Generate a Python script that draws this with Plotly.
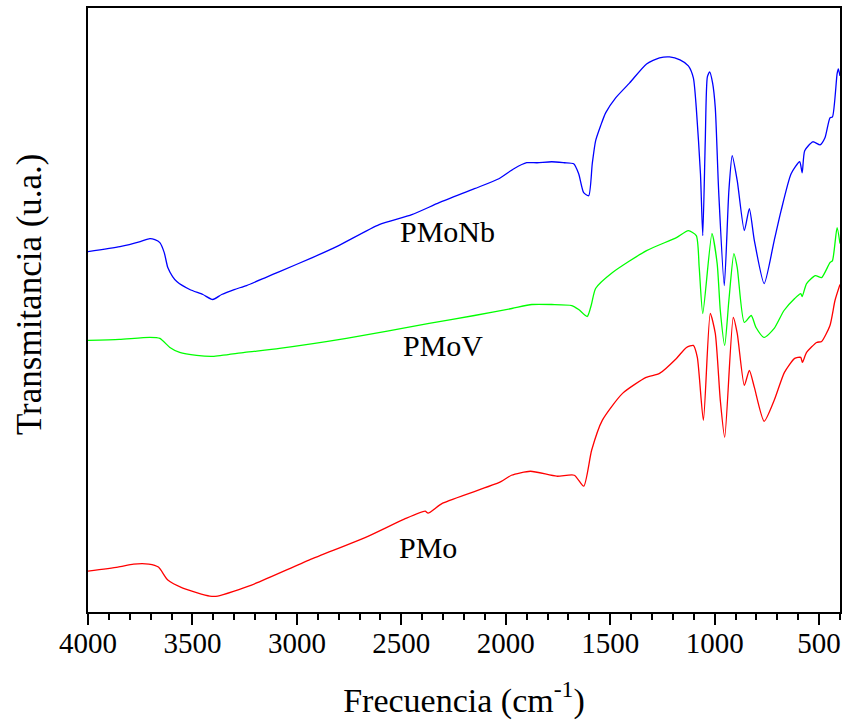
import plotly.graph_objects as go

# FTIR spectra of the three heteropolyacids (wavenumber in cm-1, transmittance in a.u.)
pmonb_wn = [4000, 3847, 3750, 3704, 3680, 3656, 3635, 3618, 3595, 3575, 3513, 3450, 3403, 3360,
            3300, 3241, 3150, 3083, 2926, 2800, 2606, 2450, 2319, 2150, 2033, 1961, 1900, 1850,
            1780, 1720, 1675, 1651, 1627, 1603, 1586, 1570, 1546, 1522, 1474, 1407, 1326, 1264,
            1216, 1166, 1126, 1102, 1088, 1068, 1057, 1045, 1035, 1024, 1010, 997, 981, 954, 932,
            916, 892, 858, 834, 810, 763, 715, 682, 634, 593, 581, 569, 530, 495, 472, 448, 436,
            414, 408, 400]
pmonb_t = [361, 366, 371, 374, 373, 370, 360, 345, 336, 331, 323, 318, 313, 318,
           323, 327, 335, 341, 355, 367, 388, 398, 410, 424, 434, 444, 450, 450,
           451, 450, 449, 439, 420, 417, 449, 472, 487, 500, 515, 530, 549, 555,
           556, 553, 547, 535, 505, 439, 377, 472, 536, 541, 530, 505, 422, 327, 422,
           457, 432, 382, 404, 372, 329, 372, 402, 439, 451, 440, 462, 471, 468, 475, 495, 496,
           539, 544, 537]

pmov_wn = [4000, 3850, 3704, 3656, 3608, 3561, 3480, 3403, 3250, 3083, 2763, 2367, 2150, 1971,
           1875, 1780, 1684, 1651, 1610, 1590, 1570, 1489, 1326, 1183, 1126, 1088, 1074, 1057,
           1013, 988, 973, 952, 932, 908, 892, 858, 825, 802, 763, 715, 668, 617, 588, 581,
           560, 518, 488, 448, 436, 414, 400]
pmov_t = [272, 273, 275, 274, 265, 260, 257, 256, 260, 264, 274, 289, 297, 304,
          308, 308, 307, 303, 296, 308, 324, 340, 362, 375, 382, 377, 345, 299,
          379, 349, 302, 267, 312, 359, 345, 290, 297, 285, 275, 284, 302, 314, 319, 316,
          329, 337, 335, 350, 352, 385, 369]

pmo_wn = [4000, 3857, 3782, 3709, 3663, 3618, 3546, 3417, 3379, 3217, 2942, 2668, 2486, 2386,
          2372, 2302, 2028, 1973, 1882, 1756, 1672, 1627, 1589, 1538, 1441, 1328, 1264, 1183,
          1135, 1102, 1083, 1054, 1021, 997, 973, 952, 911, 892, 858, 834, 810, 763, 715, 666,
          617, 588, 580, 560, 512, 488, 448, 424, 400]
pmo_t = [41, 45, 48, 48, 45, 32, 24, 16, 16, 27, 52, 75, 93, 101,
         99, 109, 130, 137, 141, 136, 137, 126, 162, 192, 219, 235, 239, 254,
         265, 267, 255, 192, 299, 279, 212, 175, 295, 279, 227, 242, 225, 191, 212, 240,
         254, 255, 250, 260, 270, 271, 287, 312, 328]

series = [
    ("PMoNb", pmonb_wn, pmonb_t, "#0000FF"),
    ("PMoV", pmov_wn, pmov_t, "#00FF00"),
    ("PMo", pmo_wn, pmo_t, "#FF0000"),
]

# label text and position (wavenumber, a.u.)
label_names = ["PMoNb", "PMoV", "PMo"]
label_wn = [2281, 2300, 2372]
label_t = [381, 267, 65]

SERIF = "Liberation Serif"

fig = go.Figure()
for name, wn, t, color in series:
    fig.add_trace(go.Scatter(
        x=wn, y=t, mode="lines", name=name,
        line=dict(color=color, width=1.3, shape="spline", smoothing=0.6),
        showlegend=False,
    ))

for name, wn, t in zip(label_names, label_wn, label_t):
    fig.add_annotation(x=wn, y=t, text=name, showarrow=False,
                       font=dict(family=SERIF, size=30, color="black"),
                       xanchor="center", yanchor="middle")

# vertical axis title
fig.add_annotation(xref="paper", yref="paper", x=-0.078, y=0.527,
                   text="Transmitancia (u.a.)", textangle=-90, showarrow=False,
                   font=dict(family=SERIF, size=35, color="black"),
                   xanchor="center", yanchor="middle")

fig.update_layout(
    width=848, height=722,
    margin=dict(l=88, r=6, t=7, b=110),
    paper_bgcolor="white", plot_bgcolor="white",
    font=dict(family=SERIF, color="black"),
)

fig.update_xaxes(
    range=[4000, 400],
    showgrid=False, zeroline=False,
    showline=True, linecolor="black", linewidth=2, mirror=True,
    tickmode="array", tickvals=[4000, 3500, 3000, 2500, 2000, 1500, 1000, 500],
    ticks="outside", ticklen=11, tickwidth=2, tickcolor="black",
    tickfont=dict(family=SERIF, size=29, color="black"),
    ticklabelstandoff=-7,
    minor=dict(tickmode="linear", tick0=0, dtick=100, ticks="outside",
               ticklen=6, tickwidth=2, tickcolor="black", showgrid=False),
    title=dict(text="Frecuencia (cm<sup>-1</sup>)",
               font=dict(family=SERIF, size=34, color="black"), standoff=30),
)

fig.update_yaxes(
    range=[0, 605],
    showgrid=False, zeroline=False,
    showline=True, linecolor="black", linewidth=2, mirror=True,
    ticks="", showticklabels=False,
)

fig.write_html("out.html")
